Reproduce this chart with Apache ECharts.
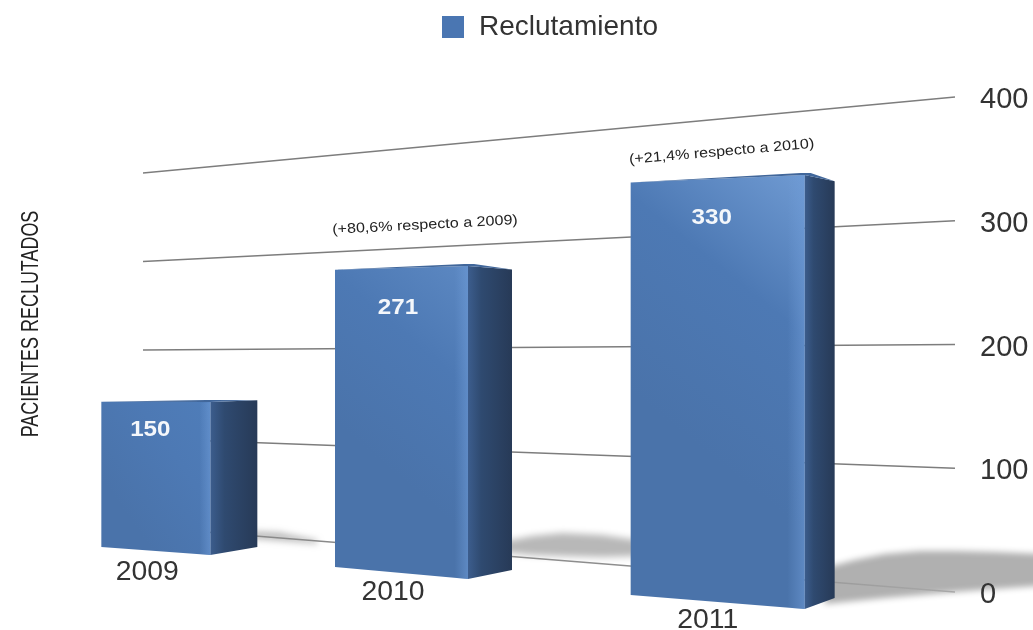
<!DOCTYPE html>
<html><head><meta charset="utf-8">
<style>html,body{margin:0;padding:0;background:#fff}#c{width:1033px;height:630px;filter:blur(0.7px)}</style>
<script src="https://cdn.jsdelivr.net/npm/echarts@6/dist/echarts.min.js"></script>
</head><body><div id="c"></div>
<script>
const categories = ['2009', '2010', '2011'];
const recruited = [150, 271, 330];
const notes = ['', '(+80,6% respecto a 2009)', '(+21,4% respecto a 2010)'];
const tickValues = [0, 100, 200, 300, 400];
const seriesName = 'Reclutamiento';
const axisTitle = 'PACIENTES RECLUTADOS';

// Perspective applied to the axis coordinates for each bar's depth
const depth = [
  {shift:-68, lift:-37, scale:.824, front:109, side:47, dropL:8,  dropR:8,  labelX:60, labelY:28, noteX:0,  noteY:0,   noteRot:0,  catX:63, catY:18},
  {shift:-81, lift:-13, scale:.933, front:133, side:44, dropL:12, dropR:9,  labelX:70, labelY:42, noteX:43, noteY:-41, noteRot:3,  catX:75, catY:14},
  {shift:-15, lift:17,  scale:1.063,front:174, side:30, dropL:14, dropR:11, labelX:93, labelY:43, noteX:83, noteY:-23, noteRot:5,  catX:97, catY:12}
];
const edgeScale = {left:.95, right:.96};
const wallLeftScale = .715, wallLeftLift = -65;
const floorShadows = [
  {color:'rgba(170,170,170,.75)', blur:6, pts:[[-4,-16],[22,-15],[60,-7],[60,-3],[22,-6],[-4,-8]]},
  {color:'#b8b8b8', blur:7, pts:[[-10,-28],[20,-34],[50,-37],[90,-35],[125,-30],[125,-14],[90,-13],[50,-14],[20,-15],[-10,-18]]},
  {color:'#b0b0b0', blur:6, pts:[[-10,-30],[20,-38],[50,-44],[85,-47],[120,-47],[160,-46],[230,-43],[230,-14],[160,-9],[120,-6],[85,-3],[50,0],[20,3],[-10,6]]}
];

function barGeom(api, i, v) {
  const d = depth[i];
  const p0 = api.coord([i, 0]), pv = api.coord([i, v]);
  const h = (p0[1] - pv[1]) * d.scale;
  const x = p0[0] + d.shift, y = p0[1] + d.lift;
  return {d, x, y, h,
    fl:[x - d.front, y - d.dropL], fr:[x, y], sr:[x + d.side, y - d.dropR],
    tl:[x - d.front, y - d.dropL - h * edgeScale.left], tr:[x, y - h],
    tsr:[x + d.side, y - d.dropR - h * edgeScale.right]};
}

// Only the canvas shadow of the floor patch is visible, which gives it soft edges.
const SHADOW_OFFSET = 3000;
function renderShadow(params, api) {
  const i = api.value(0);
  const g = barGeom(api, i, api.value(1));
  const s = floorShadows[i];
  return {type:'polygon', shape:{points:s.pts.map(o => [g.sr[0] + o[0] - SHADOW_OFFSET, g.sr[1] + o[1]])},
    style:{fill:'#000', shadowColor:s.color, shadowBlur:s.blur, shadowOffsetX:SHADOW_OFFSET}, silent:true};
}

function renderGridline(params, api) {
  const v = api.value(0);
  const cs = params.coordSys;
  const y0 = api.coord([0, 0])[1], yv = api.coord([0, v])[1];
  const leftY = y0 + wallLeftLift - (y0 - yv) * wallLeftScale;
  const stroke = v === 0
    ? new echarts.graphic.LinearGradient(0, 0, 1, 0, [{offset:0, color:'#888'}, {offset:.7, color:'#8f8f8f'}, {offset:1, color:'#a8a8a8'}])
    : '#7d7d7d';
  return {type:'line', shape:{x1:cs.x, y1:leftY, x2:cs.x + cs.width, y2:yv},
    style:{stroke, lineWidth:1.5}, silent:true};
}

function renderBar(params, api) {
  const i = api.value(0), v = api.value(1);
  const g = barGeom(api, i, v), d = g.d;
  const frontFill = new echarts.graphic.LinearGradient(1, 0, 0, .5, [
    {offset:0, color: i === 2 ? '#6f9ad2' : (i === 1 ? '#5c88c2' : '#4f7db9')},
    {offset:.45, color:'#4d79b4'},
    {offset:1, color:'#4a73aa'}]);
  const sideFill = new echarts.graphic.LinearGradient(0, 0, 1, 0, [
    {offset:0, color:'#3c5d8d'}, {offset:.3, color:'#2f4a70'}, {offset:1, color:'#273a57'}]);
  const rimX = g.x - Math.max(10, d.front * .1);
  const rimFill = new echarts.graphic.LinearGradient(0, 0, 1, 0, [
    {offset:0, color:'rgba(110,155,215,0)'}, {offset:1, color:'rgba(110,155,215,.55)'}]);
  const children = [
    {type:'polygon', shape:{points:[g.tl, g.tr, g.fr, g.fl]}, style:{fill:frontFill}},
    {type:'polygon', shape:{points:[g.tr, g.tsr, g.sr, g.fr]}, style:{fill:sideFill}},
    {type:'polygon', shape:{points:[[rimX, g.tr[1] + 1], g.tr, g.fr, [rimX, g.y - 1]]}, style:{fill:rimFill}},
    {type:'polygon', shape:{points:[g.tl, [g.x - 4, g.tr[1] - 2], [g.x + 6, g.tr[1] - 2], g.tsr, g.tr]}, style:{fill:'#41679b'}},
    {type:'text', x:g.x - d.labelX, y:g.tr[1] + d.labelY, scaleX:1.1,
      style:{text:String(v), fill:'#f4f7fb', fontFamily:'Liberation Sans', fontWeight:'bold', fontSize:22, align:'center', verticalAlign:'middle'}},
    {type:'text', x:g.x - d.catX, y:g.y + d.catY, scaleX:1.05,
      style:{text:categories[i], fill:'#333', fontFamily:'Liberation Sans', fontSize:27, align:'center', verticalAlign:'middle'}}
  ];
  if (notes[i]) children.push({type:'text', x:g.x - d.noteX, y:g.tr[1] + d.noteY, rotation:d.noteRot * Math.PI / 180, scaleX:1.15,
    style:{text:notes[i], fill:'#222', fontFamily:'Liberation Sans', fontSize:14, align:'center', verticalAlign:'middle'}});
  return {type:'group', children};
}

const barData = categories.map((c, i) => [i, recruited[i]]);
const chart = echarts.init(document.getElementById('c'), null, {renderer:'canvas'});
chart.setOption({
  animation:false,
  backgroundColor:'#fff',
  legend:{left:437, top:8, icon:'rect', itemWidth:22, itemHeight:22, data:[seriesName],
    textStyle:{fontFamily:'Liberation Sans', fontSize:28, color:'#333', padding:[4,0,0,10]}},
  grid:{left:143, right:78, top:97, bottom:38},
  xAxis:{type:'category', data:categories, show:false},
  yAxis:{type:'value', position:'right', min:0, max:400, interval:100, z:10, splitLine:{show:false},
    axisLine:{show:false}, axisTick:{show:false},
    axisLabel:{margin:25, fontFamily:'Liberation Sans', fontSize:29, color:'#333', verticalAlign:'top', lineHeight:6}},
  graphic:[{type:'text', x:32, y:324, rotation:Math.PI / 2, scaleX:.78,
    style:{text:axisTitle, fill:'#222', fontFamily:'Liberation Sans', fontSize:23, align:'center', verticalAlign:'middle'}}],
  series:[
    {type:'custom', name:'sombra', z:1, silent:true, renderItem:renderShadow, data:barData, encode:{x:0, y:1}},
    {type:'custom', name:'rejilla', z:2, silent:true, renderItem:renderGridline, data:tickValues.map(v => [v]), encode:{y:0}},
    {type:'custom', name:seriesName, z:3, itemStyle:{color:'#4a76b2'}, renderItem:renderBar, data:barData, encode:{x:0, y:1}}
  ]
});
</script></body></html>
